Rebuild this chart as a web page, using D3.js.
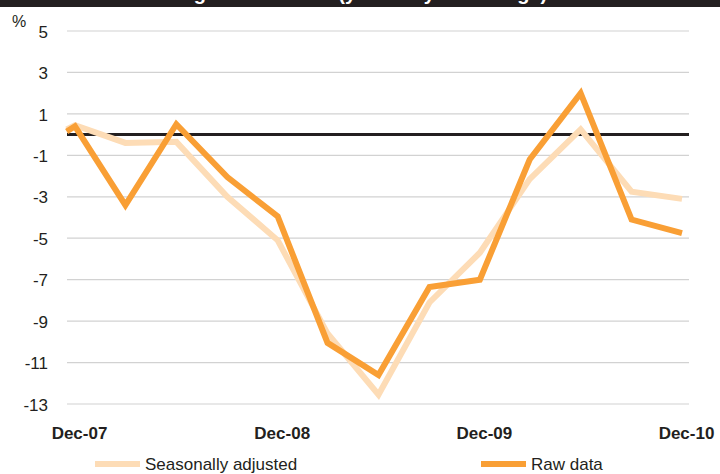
<!DOCTYPE html>
<html>
<head>
<meta charset="utf-8">
<script src="https://cdn.jsdelivr.net/npm/d3@7"></script>
<style>
  body { margin: 0; background: #fff; }
  svg { display: block; font-family: "Liberation Sans", Arial, Helvetica, sans-serif; }
</style>
</head>
<body>
<svg id="chart" width="720" height="474"></svg>
<script>
// data (quarterly, year-on-year % change)
const dates = ['2007-11-16', '2007-12-01', '2008-03-01', '2008-06-01', '2008-09-01', '2008-12-01',
               '2009-03-01', '2009-06-01', '2009-09-01', '2009-12-01', '2010-03-01', '2010-06-01',
               '2010-09-01', '2010-12-01'];
const seasonallyAdjusted = [0.25, 0.45, -0.4, -0.35, -3.0, -5.1, -9.6, -12.55, -8.1, -5.7, -2.15, 0.25, -2.75, -3.1];
const rawData = [0.15, 0.4, -3.4, 0.5, -2.05, -3.95, -10.05, -11.6, -7.35, -7.0, -1.2, 2.0, -4.1, -4.75];
const yTicks = [5, 3, 1, -1, -3, -5, -7, -9, -11, -13];
const xTicks = ['2007-12-01', '2008-12-01', '2009-12-01', '2010-12-01'];
const seriesNames = ['Seasonally adjusted', 'Raw data'];

const parse = d3.timeParse('%Y-%m-%d');
const svg = d3.select('#chart');

const gridLeft = 67, gridRight = 689;

// top banner (title is cut off in the original)
svg.append('rect')
  .attr('x', 0).attr('y', 0)
  .attr('width', 720).attr('height', 7)
  .style('fill', '#231f20');
svg.append('text')
  .attr('x', 16).attr('y', 0)
  .style('font-size', '20px')
  .style('font-weight', 'bold')
  .style('fill', '#fff')
  .text('Residential building construction (year-on-year change)');

// scales
const xScale = d3.scaleTime()
  .domain([parse('2007-12-01'), parse('2010-12-01')])
  .range([75, 682]);

const yScale = d3.scaleLinear()
  .domain([-13, 5])
  .range([404, 31]);

// gridlines
svg.append('g')
  .selectAll('line')
  .data(yTicks)
  .enter()
  .append('line')
  .attr('x1', gridLeft).attr('x2', gridRight)
  .attr('y1', d => yScale(d)).attr('y2', d => yScale(d))
  .style('stroke', '#d2d2d2')
  .style('stroke-width', 1.2);

// y axis labels
const yAxis = svg.append('g')
  .attr('transform', 'translate(48, 0)')
  .call(d3.axisLeft(yScale).tickValues(yTicks).tickSize(0).tickPadding(0).tickFormat(d => String(d)));
yAxis.select('.domain').remove();
yAxis.selectAll('text')
  .style('font-family', '"Liberation Sans", Arial, sans-serif')
  .style('font-size', '17px')
  .style('fill', '#231f20')
  .attr('dy', '0.36em');

svg.append('text')
  .attr('x', 12).attr('y', 27)
  .style('font-size', '16px')
  .style('fill', '#231f20')
  .text('%');

// x axis labels
const xAxis = svg.append('g')
  .attr('transform', 'translate(4, 427)')
  .call(d3.axisBottom(xScale).tickValues(xTicks.map(parse)).tickSize(0).tickPadding(0)
    .tickFormat(d3.timeFormat('Dec-%y')));
xAxis.select('.domain').remove();
xAxis.selectAll('text')
  .style('font-family', '"Liberation Sans", Arial, sans-serif')
  .style('font-size', '17px')
  .style('font-weight', 'bold')
  .style('fill', '#231f20')
  .attr('dy', '0.71em');

// zero line
svg.append('line')
  .attr('x1', gridLeft).attr('x2', gridRight)
  .attr('y1', yScale(0)).attr('y2', yScale(0))
  .style('stroke', '#231f20')
  .style('stroke-width', 3);

// series lines
const line = d3.line()
  .x((d, i) => xScale(parse(dates[i])))
  .y(d => yScale(d));

const colors = ['#fddcb6', '#f99f35'];
[seasonallyAdjusted, rawData].forEach((series, k) => {
  svg.append('path')
    .datum(series)
    .attr('d', line)
    .style('fill', 'none')
    .style('stroke', colors[k])
    .style('stroke-width', 6)
    .style('stroke-linejoin', 'miter');
});

// legend
const legendX = [95, 481];
const legend = svg.append('g')
  .selectAll('g')
  .data(seriesNames)
  .enter()
  .append('g')
  .attr('transform', (d, i) => `translate(${legendX[i]}, 464)`);
legend.append('rect')
  .attr('x', 0).attr('y', -3)
  .attr('width', 45).attr('height', 6)
  .style('fill', (d, i) => colors[i]);
legend.append('text')
  .attr('x', 50).attr('y', 6)
  .style('font-size', '17px')
  .style('fill', '#231f20')
  .text(d => d);
</script>
</body>
</html>
